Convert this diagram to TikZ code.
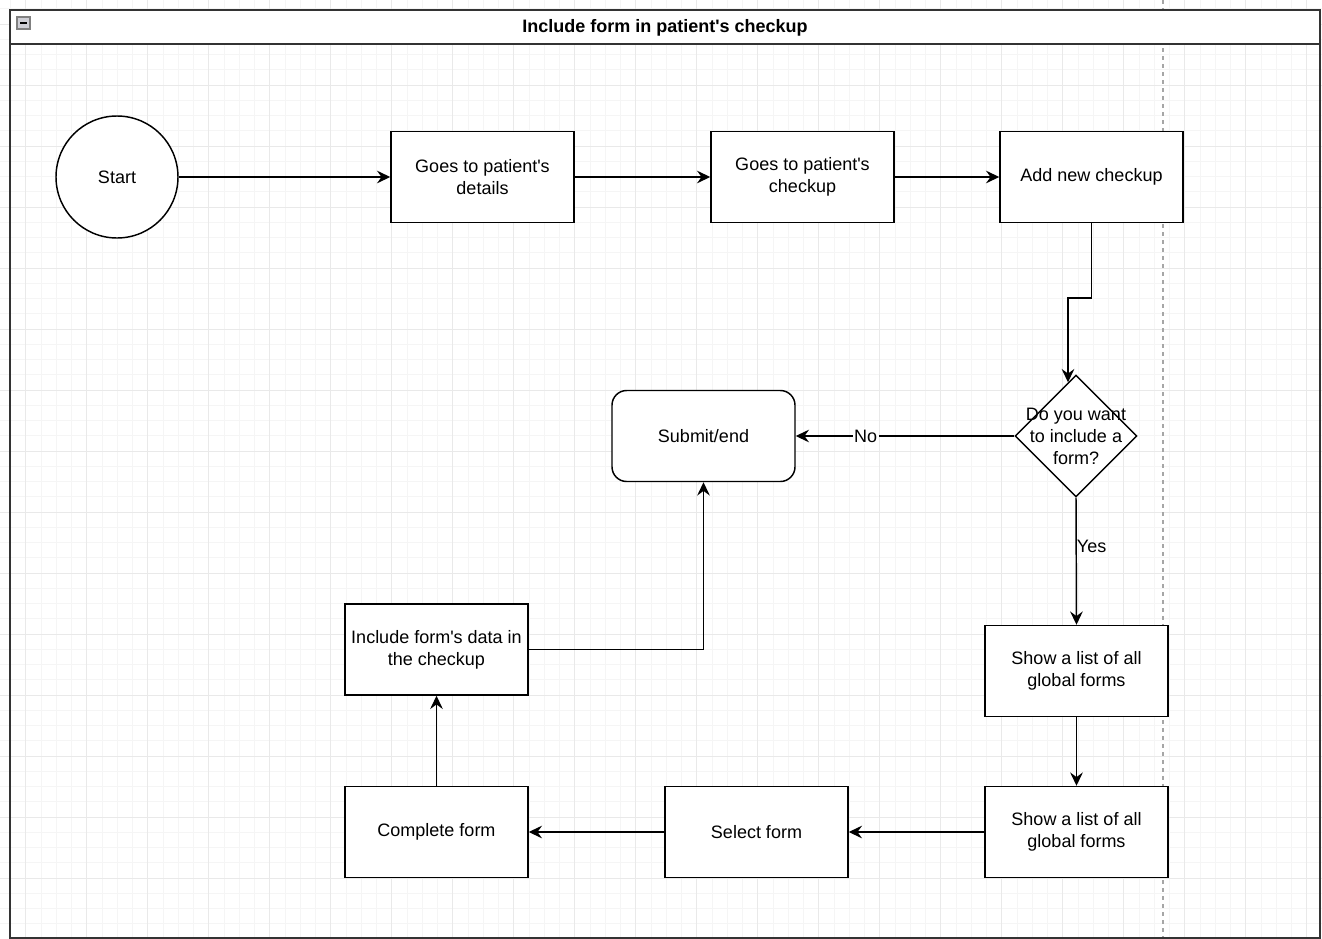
\documentclass[tikz,border=0pt]{standalone}
\usepackage{fontspec}
\setmainfont{Liberation Sans}
\usetikzlibrary{arrows.meta, shapes.geometric, calc}

\definecolor{gridminor}{HTML}{F5F5F5}
\definecolor{gridmajor}{HTML}{E9E9E9}

\begin{document}
\begin{tikzpicture}[x=0.75pt, y=-0.75pt, ->, >={Stealth[length=10pt,width=9.5pt,inset=3.5pt]},
            line width=1.1pt,
            txt/.style={font=\fontsize{13.5}{16.5}\selectfont, align=center},
            box/.style={txt, rectangle, draw, fill=white, minimum width=137.25pt, minimum height=68.25pt, inner sep=2pt}]
            \useasboundingbox (0,0) rectangle (1322,939);

            % background grid
            \foreach \i in {0,...,86}
              \draw [-, gridminor, line width=.6pt] ({10.45+15.25*\i},0) -- ({10.45+15.25*\i},939);
            \foreach \i in {0,...,61}
              \draw [-, gridminor, line width=.6pt] (0,{8.75+15.25*\i}) -- (1322,{8.75+15.25*\i});
            \foreach \i in {0,...,21}
              \draw [-, gridmajor, line width=.6pt] ({25.7+61*\i},0) -- ({25.7+61*\i},939);
            \foreach \i in {0,...,15}
              \draw [-, gridmajor, line width=.6pt] (0,{24+61*\i}) -- (1322,{24+61*\i});
            \draw [-, gray!70, dashed, line width=.8pt] (1163,0) -- (1163,939);

            % container
            \fill [white] (10,10) rectangle (1320,44);
            \draw [-, line width=1.2pt, black!80] (10,10) rectangle (1320,938);
            \draw [-, line width=1.2pt, black!80] (10,44) -- (1320,44);
            \draw [-, line width=.8pt, fill=blue!8!gray!35, draw=gray] (17,17) rectangle (30,29);
            \draw [-, line width=1.3pt] (20,23) -- (27,23);
            \node [txt, font=\fontsize{13.5}{16.5}\selectfont\bfseries] at (665,28) (title) {Include form in patient\textquotesingle s checkup};

            \tikzstyle{circ} = [txt, draw, circle, fill=white, minimum size=91.5pt, inner sep=0pt]
            \tikzstyle{dia} = [draw, diamond, fill=white, minimum width=91.5pt, minimum height=91.5pt, inner sep=0pt]

            \node [circ] at (117,177) (start) {Start};
            \node [box] at (482.5,177) (details) {Goes to patient\textquotesingle s\\details};
            \node [box] at (802.5,177) (checkup) {Goes to patient\textquotesingle s\\checkup};
            \node [box] at (1091.5,177) (newcheck) {Add new checkup};

            \node [dia] at (1076,436) (ask) {};
            \node [txt] at (1076,436) (asktext) {Do you want\\to include a\\form?};
            \node [box, rounded corners=11pt] at (703.5,436) (submit) {Submit/end};

            \node [box] at (1076.5,671) (list1) {Show a list of all\\global forms};
            \node [box] at (1076.5,832) (list2) {Show a list of all\\global forms};
            \node [box] at (756.5,832) (select) {Select form};
            \node [box] at (436.5,832) (complete) {Complete form};
            \node [box] at (436.5,649.5) (include) {Include form\textquotesingle s data in\\the checkup};

            \draw (start) -- (details);
            \draw (details) -- (checkup);
            \draw (checkup) -- (newcheck);
            \draw (newcheck.south) -- (1091.5,298) -| ($(ask.north)+(-8,8)$);

            \draw (ask.west) -- node [txt, pos=.68, fill=white, inner sep=1pt] (no) {No} (submit.east);
            \draw (ask.south) -- node [txt, pos=.38, anchor=west, inner sep=0pt] (yes) {Yes} (list1.north);

            \draw (list1) -- (list2);
            \draw (list2) -- (select);
            \draw (select) -- (complete);
            \draw (complete) -- (include);
            \draw (include.east) -| (submit.south);
\end{tikzpicture}
\end{document}
